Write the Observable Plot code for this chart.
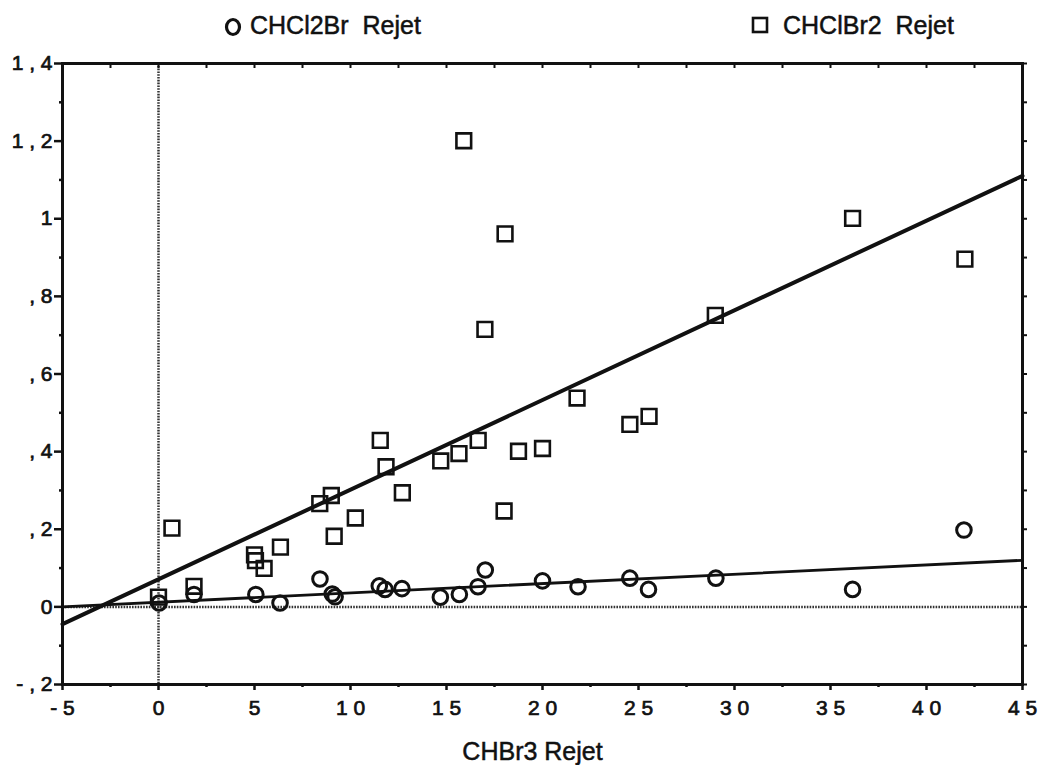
<!DOCTYPE html>
<html>
<head>
<meta charset="utf-8">
<script src="https://cdn.jsdelivr.net/npm/d3@7"></script>
<script src="https://cdn.jsdelivr.net/npm/@observablehq/plot@0.6"></script>
<style>
  html, body { margin: 0; padding: 0; background: #fff; }
  body { width: 1040px; height: 765px; overflow: hidden; font-family: "Liberation Sans", Arial, Helvetica, sans-serif; }
  #legend { position: relative; width: 1040px; height: 44px; }
  #legend .lbl { position: absolute; top: 10px; font-size: 25px; white-space: pre; color: #111; line-height: 30px; -webkit-text-stroke: 0.5px #111; }
  #legend svg { position: absolute; }
  g[aria-label="x-axis tick label"] text, g[aria-label="y-axis tick label"] text { font-size: 21px !important; stroke: #111; stroke-width: 0.7px; }
  g[aria-label="text"] text { stroke: #111; stroke-width: 0.5px; }
</style>
</head>
<body>
<div id="legend"></div>
<div id="chart"></div>
<script>
// ---- data ----
const seriesNames = ["CHCl2Br  Rejet", "CHClBr2  Rejet"];
const xLabel = "CHBr3 Rejet";

// CHCl2Br (circles)
const circleX = [0.03, 1.85, 5.07, 6.33, 8.41, 9.05, 9.2, 11.5, 11.8, 12.68, 14.68, 15.67, 16.64, 17.02, 20.0, 21.85, 24.55, 25.52, 29.03, 36.15, 41.95];
const circleY = [0.010, 0.032, 0.032, 0.010, 0.072, 0.033, 0.026, 0.054, 0.045, 0.047, 0.025, 0.032, 0.052, 0.095, 0.067, 0.052, 0.074, 0.045, 0.074, 0.045, 0.198];

// CHClBr2 (squares)
const squareX = [0.0, 0.7, 1.85, 5.0, 5.05, 5.5, 6.35, 8.4, 9.0, 9.15, 10.25, 11.55, 11.85, 12.7, 14.7, 15.65, 15.9, 16.65, 17.0, 18.0, 18.05, 18.75, 20.0, 21.8, 24.55, 25.55, 29.0, 36.15, 42.0];
const squareY = [0.025, 0.203, 0.053, 0.134, 0.119, 0.099, 0.154, 0.266, 0.287, 0.182, 0.229, 0.429, 0.361, 0.294, 0.376, 0.395, 1.201, 0.429, 0.715, 0.247, 0.961, 0.401, 0.408, 0.538, 0.470, 0.491, 0.751, 1.001, 0.896];

// fitted lines as drawn in the reference: [intercept, slope]
const circleFit = [0.012, 0.0024];
const squareFit = [0.071, 0.0231];

// axis ticks
const xTicks = [-5, 0, 5, 10, 15, 20, 25, 30, 35, 40, 45];
const xTickLabels = ["-5", "0", "5", "10", "15", "20", "25", "30", "35", "40", "45"];
const xMinorTicks = [-2.5, 2.5, 7.5, 12.5, 17.5, 22.5, 27.5, 32.5, 37.5, 42.5];
const yTicks = [-0.2, 0, 0.2, 0.4, 0.6, 0.8, 1.0, 1.2, 1.4];
const yTickLabels = ["-,2", "0", ",2", ",4", ",6", ",8", "1", "1,2", "1,4"];
const yMinorTicks = [-0.1, 0.1, 0.3, 0.5, 0.7, 0.9, 1.1, 1.3];

// ---- build tables ----
const circles = circleX.map((x, i) => ({x, y: circleY[i]}));
const squares = squareX.map((x, i) => ({x, y: squareY[i]}));
const xDomain = [xTicks[0], xTicks[xTicks.length - 1]];
const fitLine = (f) => xDomain.map(x => ({x, y: f[0] + f[1] * x}));
const yAll = yTicks.concat(yMinorTicks);
const xAll = xTicks.concat(xMinorTicks);
// spaced-out characters, as in the reference ("1 , 4", "4 5")
const fmt = (ticks, labels) => d => {
  const i = ticks.findIndex(t => Math.abs(t - d) < 1e-9);
  return i >= 0 ? labels[i].split("").join(" ") : "";
};
const blank = () => "";

// ---- legend (HTML, above the SVG) ----
const legend = document.getElementById("legend");
legend.innerHTML = `
  <svg style="left:223px;top:16px" width="20" height="22"><ellipse cx="10" cy="11" rx="6.5" ry="7.5" fill="none" stroke="#111" stroke-width="3.2"/></svg>
  <div class="lbl" style="left:250px">${seriesNames[0]}</div>
  <svg style="left:751px;top:16px" width="18" height="18"><rect x="2" y="2" width="14" height="14" fill="none" stroke="#111" stroke-width="2.6"/></svg>
  <div class="lbl" style="left:783px">${seriesNames[1]}</div>
`;

// ---- chart ----
const chart = Plot.plot({
  width: 1040,
  height: 721,
  marginLeft: 62,
  marginRight: 18,
  marginTop: 19,
  marginBottom: 81,
  style: {fontFamily: '"Liberation Sans", Arial, Helvetica, sans-serif', color: "#111", background: "#fff", fontSize: "21px"},
  x: {domain: xDomain},
  y: {domain: [yTicks[0], yTicks[yTicks.length - 1]]},
  marks: [
    // dotted zero lines
    Plot.ruleX([0], {stroke: "#333", strokeWidth: 2.5, strokeDasharray: "1.6,1.2"}),
    Plot.ruleY([0], {stroke: "#333", strokeWidth: 2.5, strokeDasharray: "1.6,1.2"}),
    // axes
    Plot.axisX({ticks: xTicks, tickFormat: fmt(xTicks, xTickLabels), tickSize: 6, tickPadding: 10, strokeWidth: 2.5, label: null}),
    Plot.axisX({ticks: xMinorTicks, tickFormat: blank, tickSize: 3, strokeWidth: 2.5, label: null}),
    Plot.axisX({anchor: "top", ticks: xAll, tickFormat: blank, tickSize: -4, strokeWidth: 2, label: null}),
    Plot.axisY({ticks: yTicks, tickFormat: fmt(yTicks, yTickLabels), tickSize: 8, tickPadding: 2, strokeWidth: 2.5, label: null}),
    Plot.axisY({ticks: yMinorTicks, tickFormat: blank, tickSize: 3, strokeWidth: 2.5, label: null}),
    Plot.axisY({anchor: "right", ticks: yAll, tickFormat: blank, tickSize: 4, strokeWidth: 2, label: null}),
    Plot.frame({stroke: "#111", strokeWidth: 3}),
    // fitted lines
    Plot.line(fitLine(squareFit), {x: "x", y: "y", stroke: "#111", strokeWidth: 4}),
    Plot.line(fitLine(circleFit), {x: "x", y: "y", stroke: "#111", strokeWidth: 2.8}),
    // points
    Plot.dot(squares, {x: "x", y: "y", symbol: "square", r: 8.3, stroke: "#111", strokeWidth: 2.6, fill: "none"}),
    Plot.dot(circles, {x: "x", y: "y", symbol: "circle", r: 7.3, stroke: "#111", strokeWidth: 3, fill: "none"}),
    // x-axis title
    Plot.text([xLabel], {frameAnchor: "bottom", dy: 67, dx: -10, lineAnchor: "middle", textAnchor: "middle", fontSize: 25, fill: "#111"})
  ]
});
document.getElementById("chart").appendChild(chart);
</script>
</body>
</html>
